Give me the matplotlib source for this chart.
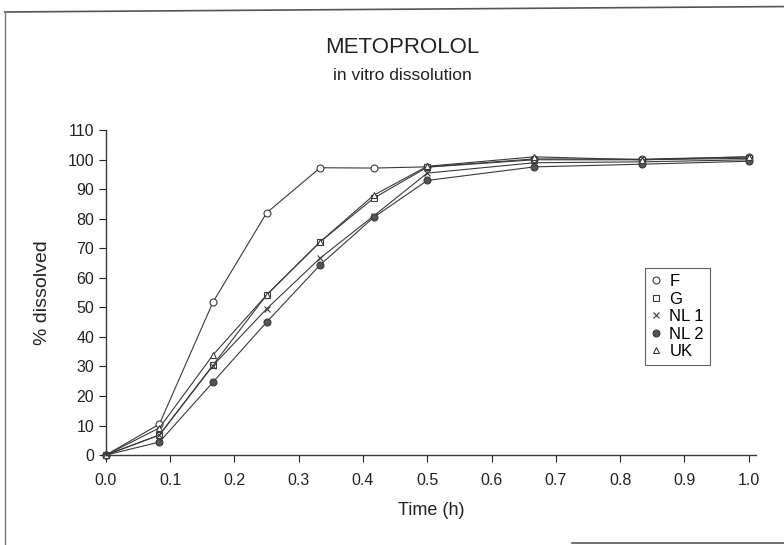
import matplotlib
matplotlib.use("Agg")
import matplotlib.pyplot as plt
from matplotlib.lines import Line2D

plt.rcParams['font.family'] = ['Liberation Sans', 'DejaVu Sans']

# Zeitpunkte (h) und Freisetzung (%)
time_h = [0, 1 / 12, 1 / 6, 0.25, 1 / 3, 5 / 12, 0.5, 2 / 3, 5 / 6, 1.0]
series_names = ["F", "G", "NL 1", "NL 2", "UK"]
f_vals = [0, 10.5, 51.8, 82.0, 97.3, 97.2, 97.6, 100.3, 100.2, 101.0]
g_vals = [0, 6.8, 30.5, 54.2, 72.2, 87.0, 97.5, 100.0, 100.0, 100.5]
nl1_vals = [0, 6.8, 30.3, 49.5, 66.7, 81.0, 95.5, 99.0, 99.3, 100.0]
nl2_vals = [0, 4.4, 24.7, 45.0, 64.4, 80.5, 93.0, 97.6, 98.5, 99.5]
uk_vals = [0, 9.2, 33.9, 54.2, 72.2, 88.0, 97.8, 101.0, 100.0, 101.0]

x_ticks = [0.0, 0.1, 0.2, 0.3, 0.4, 0.5, 0.6, 0.7, 0.8, 0.9, 1.0]
y_ticks = list(range(0, 111, 10))

ink = "#3a3a3a"
styles = [
    dict(marker="o", mfc="white", ms=5),
    dict(marker="s", mfc="white", ms=5),
    dict(marker="x", mfc=ink, ms=5),
    dict(marker="o", mfc="#555555", ms=5),
    dict(marker="^", mfc="white", ms=5),
]

fig = plt.figure(figsize=(7.84, 5.45), dpi=100)
ax = fig.add_axes([0.135, 0.165, 0.829, 0.596])

all_vals = [f_vals, g_vals, nl1_vals, nl2_vals, uk_vals]
for name, vals, st in zip(series_names, all_vals, styles):
    ax.plot(time_h, vals, color=ink, lw=0.8, mec=ink, mew=0.8, label=name,
            clip_on=False, **st)

ax.set_xlim(0, 1.011)
ax.set_ylim(0, 110)
ax.set_xticks(x_ticks)
ax.set_xticklabels([f"{t:.1f}" for t in x_ticks])
ax.set_yticks(y_ticks)
ax.tick_params(labelsize=11.5, colors="#222222", length=5, width=0.8)
ax.tick_params(axis="x", pad=8)
ax.spines["top"].set_visible(False)
ax.spines["right"].set_visible(False)
for s in ["left", "bottom"]:
    ax.spines[s].set_color(ink)
    ax.spines[s].set_linewidth(1.0)

ax.set_xlabel("Time (h)", fontsize=13, color="#222222", labelpad=10)
ax.set_ylabel("% dissolved", fontsize=14, color="#222222", labelpad=12)

fig.text(0.513, 0.912, "METOPROLOL", ha="center", va="center",
         fontsize=16, color="#222222")
fig.text(0.513, 0.862, "in vitro dissolution", ha="center", va="center",
         fontsize=12.5, color="#222222")

handles = [Line2D([], [], ls="none", color=ink, mec=ink, mew=0.8, **st)
           for st in styles]
leg = ax.legend(handles, series_names, loc="upper left",
                bbox_to_anchor=(0.822, 0.59), fontsize=12, frameon=True,
                fancybox=False, handlelength=0.6, handletextpad=0.5,
                labelspacing=0.15, borderpad=0.35, borderaxespad=0.3)
leg.get_frame().set_edgecolor(ink)
leg.get_frame().set_linewidth(0.8)

# Rahmen der Seite (Scan)
fig.add_artist(Line2D([0.006, 1.0], [0.978, 0.988], color="#555555", lw=1.2,
                      transform=fig.transFigure))
fig.add_artist(Line2D([0.006, 0.006], [0.978, 0.0], color="#777777", lw=1.0,
                      transform=fig.transFigure))
fig.add_artist(Line2D([0.73, 1.0], [0.004, 0.004], color="#555555", lw=1.2,
                      transform=fig.transFigure))

fig.savefig("out.png", dpi=100)
